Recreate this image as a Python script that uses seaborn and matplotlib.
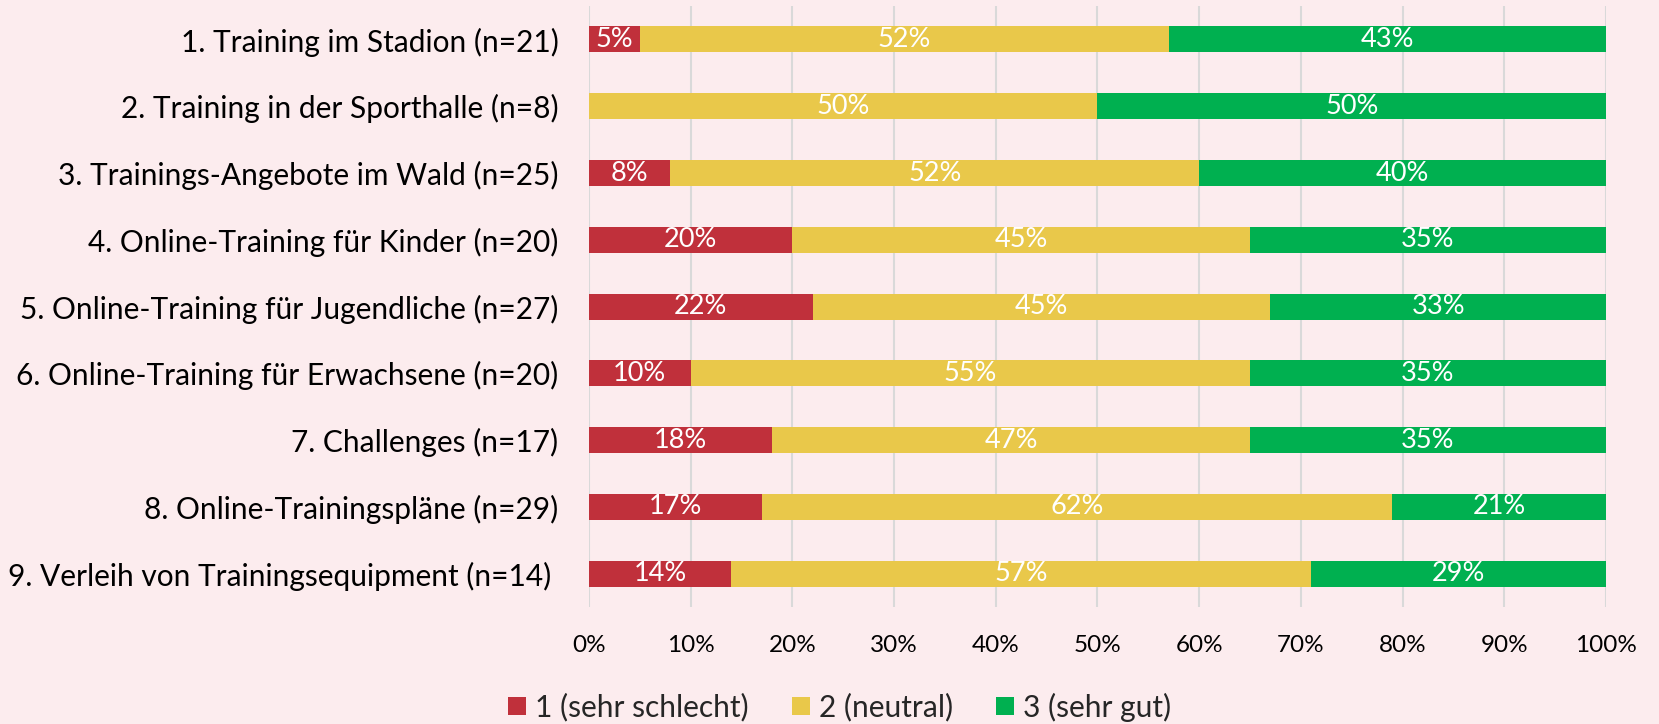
import matplotlib
matplotlib.use("Agg")
import matplotlib.pyplot as plt
import seaborn as sns
import pandas as pd
import numpy as np
from matplotlib.patches import Patch

categories = [
    "1. Training im Stadion (n=21)",
    "2. Training in der Sporthalle (n=8)",
    "3. Trainings-Angebote im Wald (n=25)",
    "4. Online-Training für Kinder (n=20)",
    "5. Online-Training für Jugendliche (n=27)",
    "6. Online-Training für Erwachsene (n=20)",
    "7. Challenges (n=17)",
    "8. Online-Trainingspläne (n=29)",
    "9. Verleih von Trainingsequipment (n=14) ",
]
series_names = ["1 (sehr schlecht)", "2 (neutral)", "3 (sehr gut)"]
schlecht = [5, 0, 8, 20, 22, 10, 18, 17, 14]
neutral = [52, 50, 52, 45, 45, 55, 47, 62, 57]
gut = [43, 50, 40, 35, 33, 35, 35, 21, 29]
xticks = [0, 10, 20, 30, 40, 50, 60, 70, 80, 90, 100]

colors = ["#C0303B", "#E9C84A", "#00B050"]
bg = "#FCECEE"

sns.set_theme(style="white")
plt.rcParams["font.family"] = ["Lato", "DejaVu Sans"]

fig = plt.figure(figsize=(16.59, 7.24), dpi=100, facecolor=bg)
ax = fig.add_axes([0.355, 0.1616, 0.613, 0.830])
ax.set_facecolor(bg)

vals = np.array([schlecht, neutral, gut], dtype=float)
cum = np.cumsum(vals, axis=0)
df = pd.DataFrame({"cat": categories})
for i in [2, 1, 0]:
    df["v"] = cum[i]
    sns.barplot(data=df, x="v", y="cat", orient="h", color=colors[i],
                width=0.39, saturation=1, ax=ax, edgecolor="none", linewidth=0, zorder=3)

for j in range(len(categories)):
    left = 0
    for i in range(3):
        w = vals[i][j]
        if w > 0:
            ax.text(left + w / 2, j, f"{int(w)}%", ha="center", va="center",
                    color="white", fontsize=19.5, zorder=5)
        left += w

ax.set_xlim(0, 100)
ax.set_ylim(len(categories) - 0.5, -0.5)
ax.set_xticks(xticks)
ax.set_xticklabels([f"{t}%" for t in xticks], fontsize=17.5, color="#000000")
ax.tick_params(axis="x", length=0, pad=20)
ax.tick_params(axis="y", length=0, pad=22, labelsize=21.5, labelcolor="#000000")
ax.set_xlabel("")
ax.set_ylabel("")
ax.grid(axis="x", color="#D9D9D9", linewidth=1.5, zorder=0)
ax.grid(axis="y", visible=False)
for s in ax.spines.values():
    s.set_visible(False)

handles = [Patch(facecolor=c, edgecolor="none") for c in colors]
fig.legend(handles, series_names, loc="center", bbox_to_anchor=(0.506, 0.0235),
           ncol=3, frameon=False, fontsize=21.5, handlelength=0.6, handleheight=0.6,
           columnspacing=1.44, handletextpad=0.3)

fig.savefig("out.png", dpi=100, facecolor=bg)
